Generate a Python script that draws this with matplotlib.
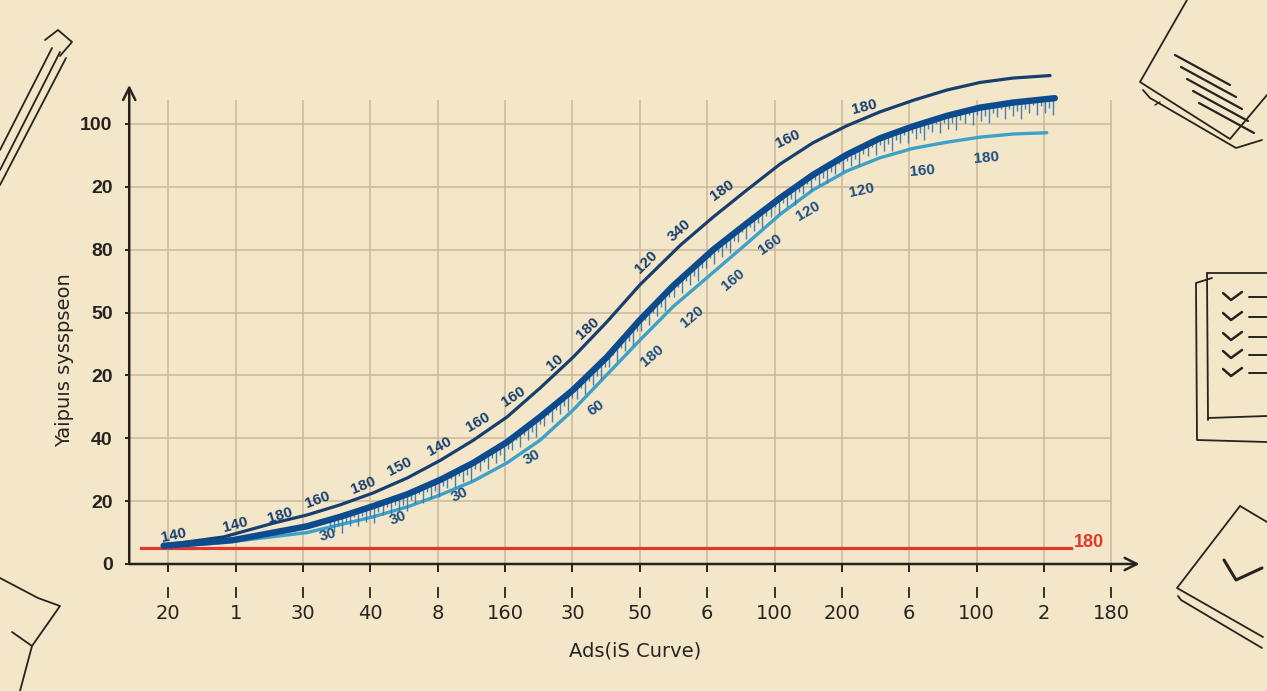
import numpy as np
import matplotlib.pyplot as plt
from matplotlib.lines import Line2D

# tick labels (as printed on the chart)
x_labels = ["20", "1", "30", "40", "8", "160", "30", "50", "6", "100",
            "200", "6", "100", "2", "180"]
y_labels = ["0", "20", "40", "20", "50", "80", "20", "100"]

# three S-curves, in grid units
top_x = [-0.07, 0.82, 1.56, 2.06, 2.55, 3.04, 3.55, 4.04, 4.53, 5.03, 5.52,
         6.01, 6.51, 7.00, 7.60, 8.09, 8.59, 9.08, 9.57, 10.07, 10.56,
         11.07, 11.56, 12.05, 12.54, 13.09]
top_y = [0.30, 0.43, 0.65, 0.78, 0.94, 1.13, 1.37, 1.65, 1.97, 2.34, 2.80,
         3.29, 3.85, 4.44, 5.07, 5.52, 5.95, 6.36, 6.70, 6.97, 7.19,
         7.38, 7.54, 7.66, 7.73, 7.77]

mid_x = [-0.07, 0.96, 2.06, 2.55, 3.04, 3.55, 4.04, 4.53, 5.03, 5.52, 6.01,
         6.51, 7.00, 7.49, 8.09, 8.59, 9.08, 9.57, 10.07, 10.56, 11.05,
         11.56, 12.05, 12.54, 13.16]
mid_y = [0.29, 0.38, 0.60, 0.75, 0.92, 1.11, 1.34, 1.61, 1.94, 2.34, 2.77,
         3.29, 3.88, 4.42, 5.00, 5.42, 5.82, 6.19, 6.51, 6.77, 6.96,
         7.13, 7.26, 7.34, 7.41]

low_x = [-0.07, 0.82, 2.06, 3.04, 3.55, 4.04, 4.53, 5.03, 5.52, 6.01, 6.51,
         7.00, 7.49, 8.09, 8.59, 9.08, 9.57, 10.07, 10.56, 11.05, 11.56,
         12.05, 12.54, 13.04]
low_y = [0.27, 0.34, 0.50, 0.75, 0.91, 1.10, 1.32, 1.61, 1.97, 2.45, 3.01,
         3.56, 4.09, 4.64, 5.10, 5.56, 5.95, 6.25, 6.46, 6.61, 6.71,
         6.79, 6.84, 6.86]

baseline_y = 0.254
baseline_label = "180"

# numbers written along the curves
top_notes = ["140", "140", "180", "160", "180", "150", "140", "160", "160",
             "10", "180", "120", "340", "180", "160", "180"]
top_notes_x = [0.08, 1.00, 1.66, 2.22, 2.89, 3.44, 4.03, 4.59, 5.12, 5.74,
               6.23, 7.10, 7.59, 8.22, 9.20, 10.34]
top_notes_y = [0.46, 0.62, 0.78, 1.02, 1.25, 1.55, 1.87, 2.25, 2.66, 3.21,
               3.74, 4.80, 5.31, 5.95, 6.76, 7.27]
top_notes_rot = [12, 15, 17, 20, 22, 27, 28, 30, 33, 40, 42, 45, 42, 35, 25, 14]

low_notes = ["30", "30", "30", "30", "60", "180", "120", "160", "160", "120",
             "120", "160", "180"]
low_notes_x = [2.37, 3.41, 4.33, 5.40, 6.35, 7.18, 7.77, 8.38, 8.93, 9.49,
               10.30, 11.20, 12.15]
low_notes_y = [0.46, 0.73, 1.10, 1.70, 2.49, 3.32, 3.93, 4.52, 5.09, 5.61,
               5.95, 6.26, 6.46]
low_notes_rot = [15, 22, 25, 30, 35, 40, 40, 40, 35, 30, 12, 5, 5]

paper = "#f4e6c8"
ink = "#262420"
grid_c = "#c9b899"
navy = "#163f6f"
blue = "#0b4b8e"
light = "#3da1c9"
red = "#e0392c"
narrow = ["DejaVu Sans Condensed", "Liberation Sans Narrow", "DejaVu Sans"]

W, H = 1267, 691
fig = plt.figure(figsize=(12.67, 6.91), dpi=100, facecolor=paper)


def sketch(px, py, lw=1.3):
    # doodle in pixel coordinates of the page
    fig.add_artist(Line2D(np.array(px) / W, 1 - np.array(py) / H,
                          transform=fig.transFigure, color=ink, lw=lw,
                          solid_capstyle="round", solid_joinstyle="round"))


# page doodles: pencil, papers, checklist, folder
sketch([0, 52], [150, 48])
sketch([0, 60], [170, 52])
sketch([0, 66], [185, 58])
sketch([45, 58, 72, 60], [40, 30, 42, 56])
sketch([1187, 1140, 1230, 1267], [0, 82, 139, 95])
sketch([1143, 1150, 1236, 1262], [90, 98, 148, 140])
sketch([1155, 1160], [105, 102], lw=1)
for k in range(5):
    sketch([1175 + 6 * k, 1230 + 6 * k], [55 + 12 * k, 85 + 12 * k], lw=1.6)
sketch([1212, 1196, 1197, 1267], [278, 283, 440, 442])
sketch([1207, 1267], [273, 273])
sketch([1207, 1208], [273, 420])
for cy in [297, 317, 337, 355, 373]:
    sketch([1223, 1231, 1242], [cy - 4, cy + 3, cy - 5], lw=1.8)
    sketch([1249, 1267], [cy, cy], lw=1.4)
sketch([1208, 1267], [418, 416])
sketch([1240, 1177, 1263], [506, 588, 637])
sketch([1178, 1181, 1262], [596, 600, 648])
sketch([1240, 1267], [506, 522])
sketch([1224, 1236, 1262], [560, 580, 568], lw=2.2)
sketch([0, 38, 60, 32, 12], [578, 598, 606, 646, 632])
sketch([32, 20], [646, 691])

ax = fig.add_axes([0.102, 0.1838, 0.7975, 0.7278])
ax.set_facecolor("none")
xmin, xmax = -0.58, 14.42
ax.set_xlim(xmin, xmax)
ax.set_ylim(0, 8.0)
for s in ax.spines.values():
    s.set_visible(False)

xs = np.arange(len(x_labels))
ys = np.arange(len(y_labels))

# grid
ax.vlines(xs, 0, 7.38, color=grid_c, lw=1.1, zorder=1)
ax.hlines(ys[1:], xmin, 14.0, color=grid_c, lw=1.1, zorder=1)

# axes with arrows
ax.annotate("", xy=(xmax, 0), xytext=(xmin, 0),
            arrowprops=dict(arrowstyle="->", color=ink, lw=1.8,
                            mutation_scale=22, shrinkA=0, shrinkB=0),
            annotation_clip=False)
ax.annotate("", xy=(xmin, 7.62), xytext=(xmin, 0),
            arrowprops=dict(arrowstyle="->", color=ink, lw=1.8,
                            mutation_scale=22, shrinkA=0, shrinkB=0),
            annotation_clip=False)

ax.set_xticks(xs)
ax.set_xticklabels(x_labels, family=narrow, fontsize=14, color=ink)
ax.set_yticks(ys)
ax.set_yticklabels(y_labels, family="Liberation Sans", fontweight="bold",
                   fontsize=14, color=ink)
ax.tick_params(axis="x", length=6, width=1.4, color=ink, pad=23)
ax.tick_params(axis="y", length=3, width=1.4, color=ink, pad=9)
# second row of small marks under the x ticks
for x in xs:
    ax.plot([x, x], [-0.52, -0.38], color=ink, lw=1.3, clip_on=False)

# baseline
ax.plot([-0.40, 13.40], [baseline_y, baseline_y], color=red, lw=2.3, zorder=3)
ax.text(13.45, baseline_y + 0.08, baseline_label, color=red, fontsize=13,
        family="Liberation Sans", fontweight="bold", va="center", ha="left")

# curves
ax.plot(low_x, low_y, color=light, lw=2.4, solid_capstyle="round",
        solid_joinstyle="round", zorder=4)
ax.plot(top_x, top_y, color=navy, lw=2.3, solid_capstyle="round",
        solid_joinstyle="round", zorder=4)

# pencil hatching under the thick curve
hx = np.arange(2.4, 13.15, 0.06)
hy = np.interp(hx, mid_x, mid_y)
hl = np.resize([0.10, 0.22, 0.14, 0.27, 0.12, 0.19, 0.08, 0.24], len(hx))
ax.vlines(hx, hy - hl, hy - 0.02, color="#2d76b6", lw=1.0, alpha=0.9, zorder=4)
ax.plot(mid_x, mid_y, color=blue, lw=4.6, solid_capstyle="round",
        solid_joinstyle="round", zorder=5)

for t, x, y, r in zip(top_notes, top_notes_x, top_notes_y, top_notes_rot):
    ax.text(x, y, t, rotation=r, rotation_mode="anchor", ha="center",
            va="center", fontsize=11, family="Liberation Sans",
            fontweight="bold", color=navy, zorder=6)
for t, x, y, r in zip(low_notes, low_notes_x, low_notes_y, low_notes_rot):
    ax.text(x, y, t, rotation=r, rotation_mode="anchor", ha="center",
            va="center", fontsize=11, family="Liberation Sans",
            fontweight="bold", color="#1d4e80", zorder=6)

fig.text(635 / W, 1 - 651 / H, "Ads(iS Curve)", fontsize=14,
         color=ink, ha="center", va="center")
fig.text(65 / W, 1 - 360 / H, "Yaipuıs sysspseon", fontsize=14,
         color=ink, ha="center", va="center", rotation=90)

fig.savefig("out.png", dpi=100, facecolor=paper)
